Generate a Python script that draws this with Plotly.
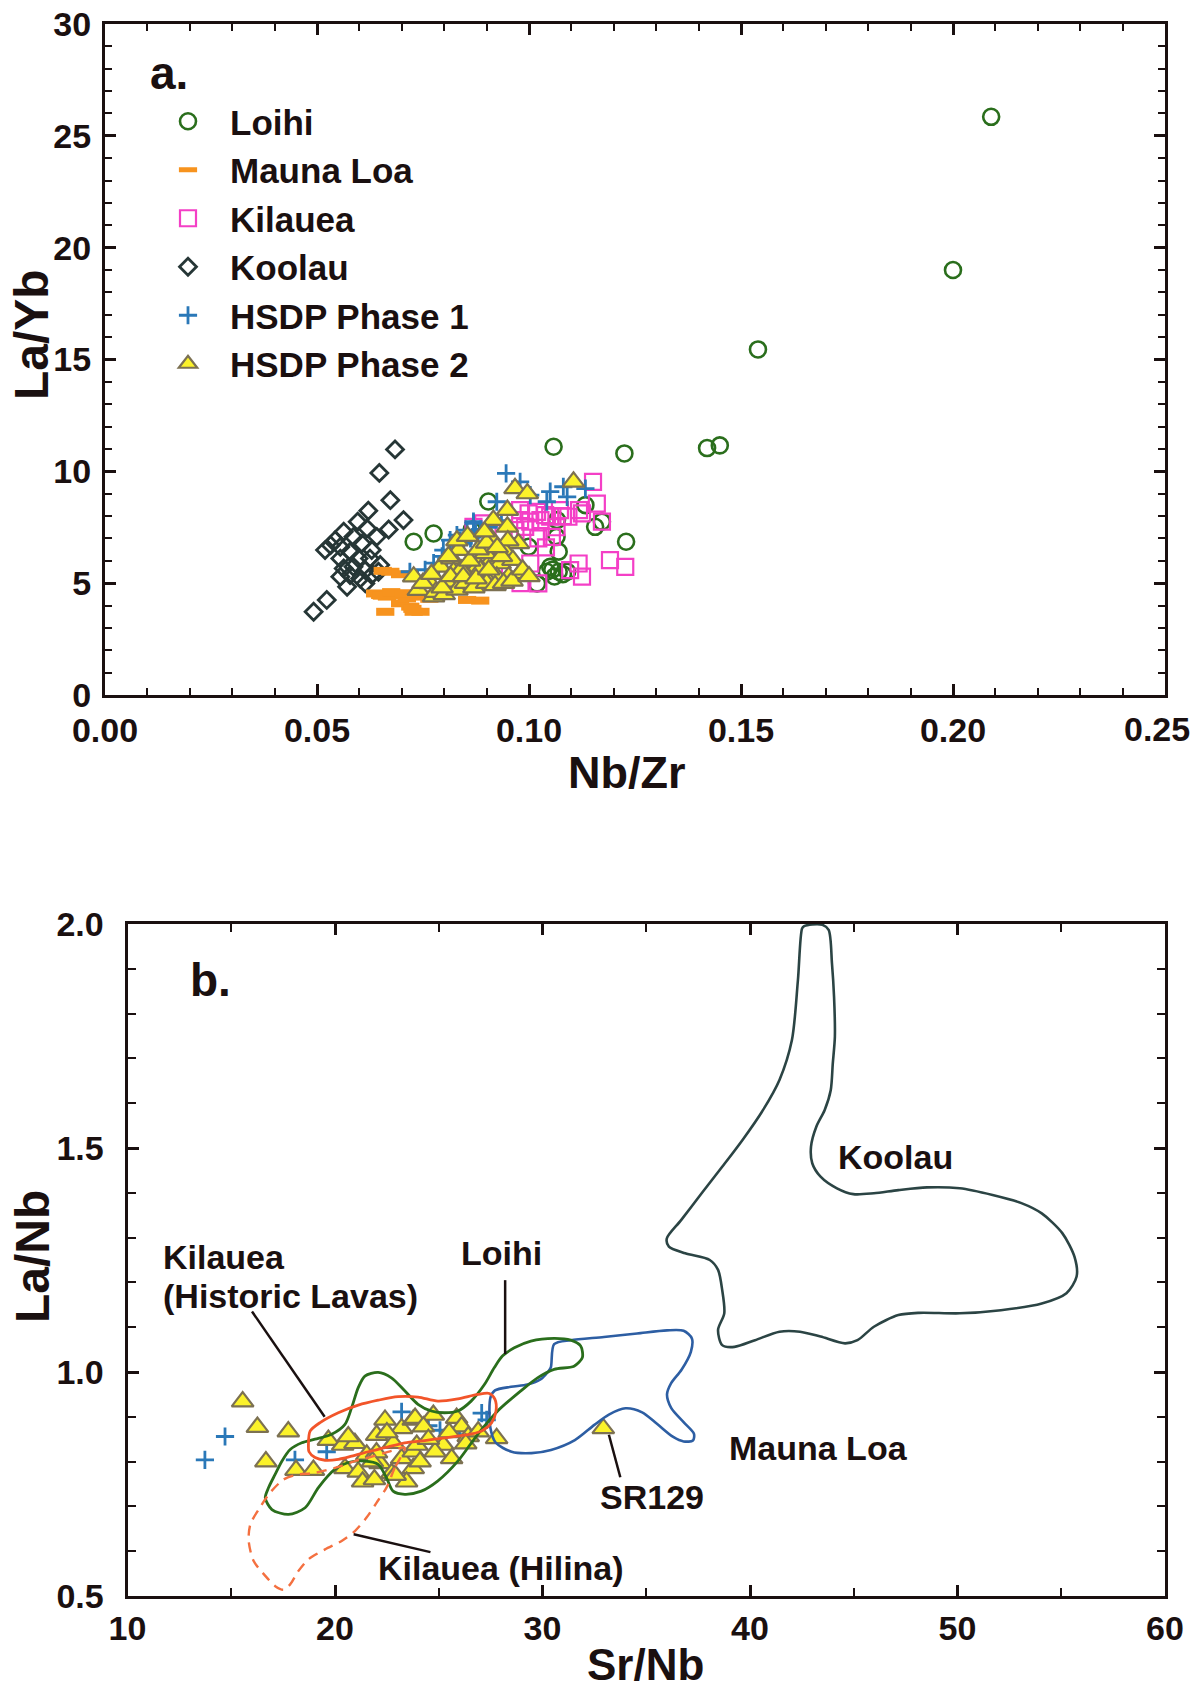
import plotly.graph_objects as go

# ---------------- Panel a data (Nb/Zr vs La/Yb) ----------------
loihi_a_x = [0.209, 0.200, 0.154, 0.142, 0.145, 0.1058, 0.1225, 0.1229, 0.0728, 0.0775, 0.0904,
             0.1133, 0.1172, 0.1156, 0.1066, 0.1065, 0.107, 0.0999, 0.105, 0.107, 0.109, 0.1019,
             0.1042, 0.0865, 0.106, 0.108, 0.1055]
loihi_a_y = [25.85, 19.0, 15.45, 11.04, 11.16, 11.1, 10.8, 6.85, 6.85, 7.22, 8.65,
             8.49, 7.75, 7.52, 7.82, 7.07, 6.41, 6.63, 5.73, 5.51, 5.51, 4.99,
             5.51, 7.4, 5.3, 5.4, 5.6]

maunaloa_a_x = [0.0673, 0.0649, 0.0637, 0.0665, 0.0688, 0.0661, 0.072, 0.0728, 0.0696, 0.0712, 0.0854,
                0.0885, 0.0744, 0.0696, 0.0653, 0.0675, 0.0705, 0.074, 0.0765, 0.078, 0.0655, 0.0725]
maunaloa_a_y = [5.51, 4.47, 4.54, 4.40, 4.47, 3.72, 3.95, 3.72, 4.10, 4.32, 4.25,
                4.22, 3.72, 5.4, 4.44, 4.6, 4.55, 4.4, 4.3, 4.5, 5.55, 3.85]

kilauea_a_x = [0.1151, 0.116, 0.1172, 0.1125, 0.1118, 0.1093, 0.1054, 0.1022, 0.1191, 0.1227, 0.1117,
               0.1125, 0.1097, 0.1022, 0.1003, 0.0979, 0.0999, 0.1019, 0.1038, 0.0979, 0.1003, 0.1027,
               0.105, 0.0991, 0.1073, 0.0968, 0.094, 0.0869, 0.0892, 0.0955, 0.098, 0.104, 0.1065, 0.108]
kilauea_a_y = [9.53, 8.56, 7.75, 8.12, 8.27, 7.97, 7.07, 7.0, 6.03, 5.73, 5.88,
               5.29, 5.58, 4.99, 5.88, 8.27, 8.12, 8.19, 8.04, 7.82, 7.75, 7.82,
               7.97, 7.52, 8.27, 7.37, 7.22, 7.52, 7.67, 5.6, 5.0, 6.6, 7.5, 8.0]

koolau_a_x = [0.0684, 0.0647, 0.0673, 0.0621, 0.0704, 0.0669, 0.0596, 0.0618, 0.0563, 0.0586, 0.0543,
              0.0519, 0.0555, 0.0578, 0.0606, 0.0629, 0.0555, 0.0598, 0.0625, 0.0649, 0.0563, 0.0586,
              0.0614, 0.0555, 0.0578, 0.0602, 0.0629, 0.0571, 0.0614, 0.0645, 0.0523, 0.0492, 0.0532,
              0.0641]
koolau_a_y = [10.98, 9.93, 8.71, 8.24, 7.82, 7.40, 7.75, 7.45, 7.30, 7.07, 6.92,
              6.48, 6.62, 6.40, 6.77, 6.48, 6.10, 6.10, 6.10, 5.81, 5.66, 5.73,
              5.58, 5.29, 5.36, 5.21, 5.36, 4.84, 4.99, 5.51, 4.25, 3.72, 6.70,
              7.07]

hsdp1_a_x = [0.0946, 0.0979, 0.1003, 0.1042, 0.105, 0.1081, 0.109, 0.1133, 0.0924, 0.0869, 0.0874,
             0.0798, 0.0787, 0.0814, 0.083, 0.0854, 0.0869, 0.0806, 0.0719, 0.0846, 0.0775, 0.082,
             0.0838, 0.0862, 0.0885, 0.0905, 0.0935, 0.0755, 0.0795, 0.0825]
hsdp1_a_y = [9.91, 9.53, 8.94, 8.64, 9.09, 9.31, 8.86, 9.23, 8.64, 7.67, 7.22,
             6.48, 5.73, 6.92, 7.15, 7.37, 7.75, 6.10, 5.51, 6.78, 5.9, 6.4,
             6.9, 7.0, 7.4, 7.5, 7.8, 5.6, 6.2, 6.0]

hsdp2_a_x = [0.1105, 0.0967, 0.0996, 0.0949, 0.0916, 0.0949, 0.0911, 0.0975, 0.0941, 0.0893, 0.0911,
             0.0932, 0.0962, 0.0877, 0.0979, 0.0952, 0.0924, 0.0893, 0.0869,
             0.0728, 0.0739, 0.0767, 0.0791, 0.0818, 0.0806, 0.0822, 0.0834, 0.0861, 0.0885, 0.0897,
             0.0775, 0.078, 0.080, 0.083, 0.085, 0.087, 0.090, 0.092, 0.094, 0.096, 0.084,
             0.086, 0.088, 0.090, 0.0935, 0.095, 0.075, 0.077, 0.081, 0.083, 0.0855, 0.0795,
             0.0815, 0.0845, 0.0875, 0.0905, 0.0925, 0.0895, 0.0985, 0.100]
hsdp2_a_y = [9.53, 9.24, 9.01, 8.27, 7.82, 7.52, 7.0, 6.78, 6.48, 6.55, 6.03,
             5.88, 6.03, 5.88, 5.44, 5.29, 5.29, 5.36, 5.51,
             5.29, 4.69, 4.99, 5.73, 6.10, 5.06, 5.51, 6.48, 5.14, 5.58, 6.33,
             4.40, 4.6, 4.5, 4.7, 5.0, 4.8, 5.0, 4.9, 5.0, 5.1, 5.6,
             6.0, 6.5, 6.8, 6.2, 6.9, 5.0, 5.4, 6.2, 6.9, 7.1, 4.8,
             5.3, 5.3, 5.2, 5.6, 6.6, 7.3, 5.6, 5.3]

# ---------------- Panel b data (Sr/Nb vs La/Nb) ----------------
hsdp1_b_x = [13.73, 14.7, 18.07, 23.21, 19.6, 25.06, 27.31, 27.07, 24.5, 26.0]
hsdp1_b_y = [0.804, 0.856, 0.804, 0.911, 0.822, 0.87, 0.893, 0.908, 0.88, 0.86]

hsdp2_b_x = [15.55, 16.26, 17.75, 16.67, 18.12, 18.96, 19.68, 20.37, 20.96, 20.64, 21.53,
             20.48, 21.12, 21.33, 22.01, 22.41, 23.21, 23.77, 22.81, 22.17, 22.73, 23.21,
             23.77, 23.77, 23.45, 23.86, 24.74, 24.26, 25.86, 26.1, 26.42, 26.9, 27.79,
             25.22, 25.62, 24.82, 23.94, 24.1, 22.0, 21.8, 22.5, 24.5, 25.5, 26.3, 22.9,
             21.9, 32.93]
hsdp2_b_y = [0.934, 0.877, 0.867, 0.800, 0.781, 0.781, 0.848, 0.837, 0.841, 0.856, 0.815,
             0.785, 0.777, 0.755, 0.859, 0.893, 0.874, 0.893, 0.841, 0.796, 0.774, 0.807,
             0.822, 0.785, 0.755, 0.897, 0.904, 0.878, 0.897, 0.878, 0.856, 0.867, 0.852,
             0.837, 0.807, 0.822, 0.837, 0.800, 0.82, 0.80, 0.865, 0.85, 0.865, 0.84, 0.77,
             0.76, 0.874]

# field outlines
loihi_field_x = [16.64, 16.96, 17.76, 18.56, 19.2, 20.0, 20.64, 21.44, 22.08, 22.48, 22.8, 23.36,
                 24.16, 24.96, 25.92, 26.88, 27.84, 28.96, 29.76, 30.56, 31.52, 31.92, 31.84,
                 31.36, 30.56, 29.44, 28.64, 28.08, 27.68, 27.2, 26.56, 25.92, 25.28, 24.64,
                 24.0, 23.36, 22.72, 22.08, 21.44, 21.12, 20.8, 20.48, 19.84, 19.04, 18.4,
                 17.84, 17.44, 17.12, 16.8, 16.64]
loihi_field_y = [0.719, 0.693, 0.682, 0.697, 0.742, 0.783, 0.798, 0.801, 0.794, 0.764, 0.734, 0.727,
                 0.734, 0.757, 0.801, 0.861, 0.913, 0.958, 0.987, 1.006, 1.013, 1.032, 1.058,
                 1.071, 1.075, 1.069, 1.054, 1.036, 1.01, 0.972, 0.935, 0.913, 0.909, 0.913,
                 0.928, 0.958, 0.987, 0.999, 0.991, 0.965, 0.92, 0.883, 0.861, 0.85, 0.842,
                 0.827, 0.801, 0.772, 0.742, 0.719]

historic_field_x = [18.72, 18.8, 19.28, 20.16, 21.12, 22.08, 23.04, 24.0, 24.96, 25.92, 26.88, 27.44,
                    27.71, 27.76, 27.55, 27.04, 26.24, 25.28, 24.32, 23.36, 22.4, 21.6, 20.8, 20.16,
                    19.52, 19.04, 18.75, 18.72]
historic_field_y = [0.839, 0.868, 0.887, 0.909, 0.926, 0.937, 0.945, 0.944, 0.935, 0.94, 0.95, 0.952,
                    0.939, 0.913, 0.887, 0.868, 0.859, 0.853, 0.847, 0.842, 0.831, 0.822, 0.812, 0.805,
                    0.803, 0.809, 0.822, 0.839]

hilina_field_x = [23.36, 22.88, 22.48, 22.0, 21.52, 20.96, 20.32, 19.52, 18.72, 18.24, 17.84, 17.52,
                  17.12, 16.64, 16.08, 15.84, 15.92, 16.32, 16.88, 17.52, 18.08, 19.04, 20.0, 20.96,
                  21.92, 22.72, 23.36]
hilina_field_y = [0.831, 0.786, 0.742, 0.708, 0.675, 0.645, 0.623, 0.604, 0.582, 0.556, 0.526, 0.514,
                  0.522, 0.545, 0.578, 0.623, 0.66, 0.693, 0.731, 0.76, 0.77, 0.775, 0.786, 0.801,
                  0.813, 0.824, 0.831]

maunaloa_field_x = [30.24, 30.4, 30.56, 31.36, 32.96, 34.56, 36.0, 36.8, 37.2, 37.15, 36.7, 36.2,
                    36.0, 36.2, 36.8, 37.3, 37.25, 36.8, 36.3, 35.5, 34.8, 34.0, 33.2,
                    32.5, 31.56, 30.41, 29.47, 28.51, 27.75, 27.49, 27.49, 27.71, 28.48,
                    29.28, 29.92, 30.24]
maunaloa_field_y = [0.999, 1.01, 1.062, 1.071, 1.078, 1.086, 1.093, 1.092, 1.075, 1.045, 1.005, 0.975,
                    0.95, 0.92, 0.888, 0.862, 0.847, 0.845, 0.855, 0.885, 0.91, 0.919, 0.905,
                    0.882, 0.848, 0.826, 0.819, 0.822, 0.842, 0.875, 0.943, 0.959, 0.967,
                    0.972, 0.984, 0.999]

koolau_field_x = [42.61, 42.51, 42.31, 42.02, 41.42, 40.63, 39.64, 38.66, 37.67, 36.68, 35.99, 36.09,
                  36.88, 38.06, 38.46, 38.66, 38.76, 38.46, 38.66, 39.25, 40.24, 41.42, 42.41,
                  43.4, 44.58, 45.18, 45.97, 47.15, 48.14, 50.11, 52.09, 54.06, 55.25, 55.74,
                  55.64, 55.05, 54.06, 53.08, 51.69, 50.11, 48.53, 47.15, 45.97, 44.98, 44.19,
                  43.4, 43.0, 42.94, 43.2, 43.6, 43.89, 43.99, 44.09, 44.05, 43.95, 43.79, 43.49,
                  43.0, 42.61]
koolau_field_y = [1.995, 1.99, 1.875, 1.741, 1.652, 1.585, 1.518, 1.458, 1.399, 1.339, 1.298, 1.28,
                  1.265, 1.25, 1.228, 1.183, 1.131, 1.094, 1.06, 1.056, 1.071, 1.09, 1.09,
                  1.079, 1.064, 1.071, 1.101, 1.127, 1.132, 1.131, 1.138, 1.153, 1.176, 1.213,
                  1.257, 1.31, 1.354, 1.377, 1.395, 1.41, 1.412, 1.406, 1.399, 1.397, 1.41,
                  1.436, 1.466, 1.503, 1.548, 1.585, 1.629, 1.689, 1.748, 1.838, 1.912, 1.987, 1.998,
                  1.999, 1.995]

# leader lines (x0, y0, x1, y1)
leader_historic = [16.0, 1.135, 19.5, 0.90]
leader_loihi = [28.2, 1.205, 28.2, 1.04]
leader_hilina = [20.9, 0.638, 24.6, 0.598]
leader_sr129 = [33.2, 0.86, 33.75, 0.765]

# ---------------- styles ----------------
FONT = "Liberation Sans, Arial, sans-serif"
INK = "#1a1010"
GREEN = "#2a6e1c"
ORANGE = "#f7931e"
PINK = "#f43fc6"
DARK = "#263636"
BLUE = "#2a78b8"
YELLOW = "#fbf22a"
OLIVE = "#7c7152"
RED_OR = "#f2552a"
HIL = "#f47040"
ML_BLUE = "#2d5ea3"
KOOL = "#2b4444"

W, H = 1192, 1694
TICK_FS = 34

fig = go.Figure()

m_loihi = dict(symbol="circle-open", size=16, color=GREEN, line=dict(width=2.6, color=GREEN))
m_ml = dict(symbol="line-ew-open", size=13, color=ORANGE, line=dict(width=8, color=ORANGE))
m_kil = dict(symbol="square-open", size=16, color=PINK, line=dict(width=2.2, color=PINK))
m_kool = dict(symbol="diamond-open", size=13, color=DARK, line=dict(width=2.8, color=DARK))
m_h1 = dict(symbol="cross-thin-open", size=13, color=BLUE, line=dict(width=2.8, color=BLUE))
m_h2 = dict(symbol="triangle-up", size=19, color=YELLOW, line=dict(width=2.2, color=OLIVE))

# draw order (legend order set by legendrank)
fig.add_trace(go.Scatter(x=koolau_a_x, y=koolau_a_y, mode="markers", name="Koolau",
                         marker=m_kool, legendrank=4, xaxis="x", yaxis="y"))
fig.add_trace(go.Scatter(x=maunaloa_a_x, y=maunaloa_a_y, mode="markers", name="Mauna Loa",
                         marker=m_ml, legendrank=2, xaxis="x", yaxis="y"))
fig.add_trace(go.Scatter(x=loihi_a_x, y=loihi_a_y, mode="markers", name="Loihi",
                         marker=m_loihi, legendrank=1, xaxis="x", yaxis="y"))
fig.add_trace(go.Scatter(x=kilauea_a_x, y=kilauea_a_y, mode="markers", name="Kilauea",
                         marker=m_kil, legendrank=3, xaxis="x", yaxis="y"))
fig.add_trace(go.Scatter(x=hsdp1_a_x, y=hsdp1_a_y, mode="markers", name="HSDP Phase 1",
                         marker=m_h1, legendrank=5, xaxis="x", yaxis="y"))
fig.add_trace(go.Scatter(x=hsdp2_a_x, y=hsdp2_a_y, mode="markers", name="HSDP Phase 2",
                         marker=m_h2, legendrank=6, xaxis="x", yaxis="y"))

# panel b points
fig.add_trace(go.Scatter(x=hsdp1_b_x, y=hsdp1_b_y, mode="markers", showlegend=False,
                         marker=m_h1, xaxis="x2", yaxis="y2"))
fig.add_trace(go.Scatter(x=hsdp2_b_x, y=hsdp2_b_y, mode="markers", showlegend=False,
                         marker=m_h2, xaxis="x2", yaxis="y2"))

# panel b fields
def field(xs, ys, color, dash="solid", width=2.6):
    fig.add_trace(go.Scatter(x=xs, y=ys, mode="lines", showlegend=False, hoverinfo="skip",
                             line=dict(color=color, width=width, dash=dash, shape="spline", smoothing=0.8),
                             xaxis="x2", yaxis="y2"))

field(koolau_field_x, koolau_field_y, KOOL)
field(maunaloa_field_x, maunaloa_field_y, ML_BLUE)
field(loihi_field_x, loihi_field_y, GREEN, width=2.8)
field(hilina_field_x, hilina_field_y, HIL, dash="10px,7px", width=2.4)
field(historic_field_x, historic_field_y, RED_OR, width=2.8)

shapes = []
for ld in (leader_historic, leader_loihi, leader_hilina, leader_sr129):
    shapes.append(dict(type="line", xref="x2", yref="y2", x0=ld[0], y0=ld[1], x1=ld[2], y1=ld[3],
                       line=dict(color=INK, width=2.5)))

axis_common = dict(showline=True, linewidth=3, linecolor=INK, mirror="allticks",
                   ticks="inside", ticklen=11, tickwidth=2.5, tickcolor=INK,
                   showgrid=False, zeroline=False, automargin=False,
                   tickfont=dict(family=FONT, size=TICK_FS, color=INK, weight="bold"))

fig.update_layout(
    width=W, height=H, margin=dict(l=0, r=0, t=0, b=0, autoexpand=False),
    paper_bgcolor="white", plot_bgcolor="white",
    font=dict(family=FONT, color=INK),
    xaxis=dict(domain=[105 / W, 1165 / W], range=[0, 0.25], dtick=0.05, tick0=0,
               tickformat=".2f", anchor="y", ticklabelstandoff=3,
               minor=dict(dtick=0.01, ticks="inside", ticklen=7, tickwidth=2, tickcolor=INK),
               **axis_common),
    yaxis=dict(domain=[1 - 695 / H, 1 - 24 / H], range=[0, 30], dtick=5, tick0=0,
               anchor="x", ticklabelstandoff=4,
               minor=dict(dtick=1, ticks="inside", ticklen=7, tickwidth=2, tickcolor=INK),
               **axis_common),
    xaxis2=dict(domain=[127.5 / W, 1165 / W], range=[10, 60], dtick=10, tick0=0,
                anchor="y2", ticklabelstandoff=0,
                minor=dict(dtick=5, ticks="inside", ticklen=8, tickwidth=2, tickcolor=INK),
                **axis_common),
    yaxis2=dict(domain=[1 - 1596 / H, 1 - 924 / H], range=[0.5, 2.0], dtick=0.5, tick0=0,
                tickformat=".1f", anchor="x2", ticklabelstandoff=14,
                minor=dict(dtick=0.1, ticks="inside", ticklen=8, tickwidth=2, tickcolor=INK),
                **axis_common),
    legend=dict(x=146 / W, y=1 - 92 / H, xanchor="left", yanchor="top",
                bgcolor="rgba(0,0,0,0)", borderwidth=0, itemwidth=74,
                font=dict(family=FONT, size=35, color=INK, weight="bold"),
                itemclick=False, itemdoubleclick=False),
    shapes=shapes,
    showlegend=True,
)

def bold(size):
    return dict(family=FONT, size=size, color=INK, weight="bold")

ann = []
# last x tick label of panel a (would overflow the page edge if centred on its tick)
ann.append(dict(text="0.25", x=1, y=1 - 729 / H, xref="paper", yref="paper",
                showarrow=False, font=bold(TICK_FS), xanchor="right", yanchor="middle"))
# axis titles
ann.append(dict(text="Nb/Zr", x=627 / W, y=1 - 773 / H, xref="paper", yref="paper",
                showarrow=False, font=bold(45), xanchor="center", yanchor="middle"))
ann.append(dict(text="La/Yb", x=32 / W, y=1 - 335 / H, xref="paper", yref="paper", textangle=-90,
                showarrow=False, font=bold(48), xanchor="center", yanchor="middle"))
ann.append(dict(text="Sr/Nb", x=645 / W, y=1 - 1664 / H, xref="paper", yref="paper",
                showarrow=False, font=bold(44), xanchor="center", yanchor="middle"))
ann.append(dict(text="La/Nb", x=32 / W, y=1 - 1257 / H, xref="paper", yref="paper", textangle=-90,
                showarrow=False, font=bold(48), xanchor="center", yanchor="middle"))
# panel labels
ann.append(dict(text="a.", x=0.015, y=27.8, xref="x", yref="y", showarrow=False, font=bold(46)))
ann.append(dict(text="b.", x=14.0, y=1.875, xref="x2", yref="y2", showarrow=False, font=bold(46)))
# field labels
lab = [("Koolau", 47.0, 1.48, "center"),
       ("Mauna Loa", 38.9, 0.83, "left"),
       ("SR129", 35.26, 0.722, "center"),
       ("Kilauea (Hilina)", 28.0, 0.563, "center"),
       ("Loihi", 28.0, 1.265, "center"),
       ("Kilauea", 11.62, 1.256, "left"),
       ("(Historic Lavas)", 11.62, 1.169, "left")]
for t, xx, yy, anc in lab:
    ann.append(dict(text=t, x=xx, y=yy, xref="x2", yref="y2", showarrow=False,
                    font=bold(34), xanchor=anc, yanchor="middle"))

fig.update_layout(annotations=ann)

fig.write_html("out.html")
